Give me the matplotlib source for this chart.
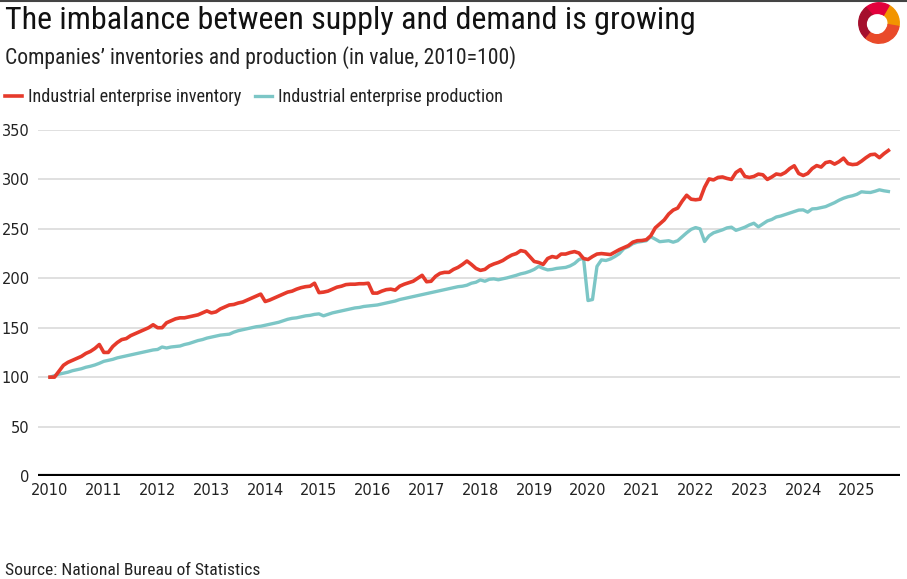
import pandas as pd
import matplotlib
matplotlib.use('Agg')
import matplotlib.pyplot as plt
from matplotlib.patches import Wedge, Circle
from matplotlib.lines import Line2D

# monthly index values, 2010=100
inventory = [
    100, 100, 106, 112, 115, 117, 119, 121, 124, 126, 129, 133,              # 2010
    125, 125, 131, 135, 138, 139, 142, 144, 146, 148, 150, 153,              # 2011
    150, 150, 155, 157, 159, 160, 160, 161, 162, 163, 165, 167,              # 2012
    165, 166, 169, 171, 173, 173.5, 175, 176, 178, 180, 182, 184,            # 2013
    176.5, 178, 180, 182, 184, 186, 187, 189, 190.5, 191.5, 192, 195,        # 2014
    185.5, 186, 187, 189, 191, 192, 193.6, 194, 194, 194.5, 194.5, 195,      # 2015
    185, 185, 187, 188.5, 189, 188, 192, 194, 195.5, 197, 200, 203,          # 2016
    196.5, 197, 202, 205, 206, 206, 209, 211, 214, 217.5, 214, 210,          # 2017
    208, 209, 212.5, 214.5, 216, 218, 221, 223.5, 225, 228, 227, 222,        # 2018
    217, 216, 214, 220, 222, 221, 224.5, 224.5, 226, 227, 225.5, 220,        # 2019
    219, 222, 224.5, 225, 224.5, 224, 226.5, 229, 231, 233, 236.5, 238,      # 2020
    238.2, 239, 243, 251, 255, 259, 265, 269, 271, 278, 284, 280,            # 2021
    279.4, 280, 292, 300.5, 299.5, 302, 302.5, 301, 300, 307, 310, 303,      # 2022
    302, 303, 305.4, 304.7, 300, 302.5, 305.5, 304.7, 307, 311, 313.8, 306,  # 2023
    304, 306, 311, 314, 312.5, 317, 318, 315.5, 318, 321.5, 316, 315,        # 2024
    315.5, 318.5, 322, 325, 325.5, 322, 326, 329.3,                          # 2025
]
production = [
    100, 101.5, 103, 104, 105, 106.5, 107.5, 108.5, 110, 111, 112.3, 114,
    116, 117, 118, 119.5, 120.5, 121.5, 122.5, 123.5, 124.5, 125.5, 126.5, 127.5,
    128, 130.5, 129.5, 130.5, 131, 131.5, 133, 134, 135.5, 137, 138, 139.5,
    140.5, 141.5, 142.5, 143, 143.5, 145.5, 147, 148, 149, 150, 151, 151.5,
    152.5, 153.5, 154.5, 155.5, 157, 158.5, 159.5, 160, 161, 162, 162.5, 163.5,
    164, 162, 163.5, 165, 166, 167, 168, 169, 170, 170.5, 171.5, 172,
    172.5, 173, 174, 175, 176, 177, 178.5, 179.5, 180.5, 181.5, 182.5, 183.5,
    184.5, 185.5, 186.5, 187.6, 188.5, 189.5, 190.5, 191.5, 192, 193, 195, 196,
    198.4, 197, 199, 199.4, 198.5, 199.5, 200.5, 201.7, 203, 204.5, 205.5, 207,
    209, 212, 210, 208.5, 209, 210, 210.5, 211, 212.5, 215, 219, 220.3,
    177.5, 178.5, 212, 218.6, 218, 219.5, 222, 225, 230, 232, 235, 236.5,
    237.2, 238, 242, 239.6, 237, 237.5, 238, 236.5, 238, 242, 246, 249.5,
    251.3, 250, 237.2, 243, 246, 247.5, 249, 251, 251.7, 248.5, 250, 251.7,
    254, 255.7, 252, 255, 258, 259.5, 262, 263, 264.5, 266, 267.5, 269,
    269.2, 266.9, 270.2, 270.5, 271.5, 272.5, 274.5, 276.5, 279, 281, 282.5, 283.5,
    285, 287.5, 287, 286.8, 288, 289.5, 288.5, 287.8,
]
years = list(range(2010, 2026))
y_ticks = [0, 50, 100, 150, 200, 250, 300, 350]

months = pd.date_range('2010-01-01', periods=len(inventory), freq='MS')
t = months.year + (months.month - 1) / 12

RED = '#e63a2b'
TEAL = '#7cc6c6'
FONT = ['Roboto Condensed', 'Liberation Sans', 'DejaVu Sans']

W, H = 907, 579
fig = plt.figure(figsize=(W / 100, H / 100), dpi=100)
ax = fig.add_axes([38 / W, 1 - 476 / H, (900 - 38) / W, (476 - 130) / H])

l1, = ax.plot(t, inventory, color=RED, lw=2.6, label='Industrial enterprise inventory', zorder=3)
l2, = ax.plot(t, production, color=TEAL, lw=2.4, label='Industrial enterprise production', zorder=2)

ax.set_xlim(2010 + (38 - 50) / 53.8, 2010 + (900 - 50) / 53.8)
ax.set_ylim(0, 350)
ax.set_xticks(years)
ax.set_xticklabels([str(y) for y in years], family='DejaVu Sans')
ax.set_yticks(y_ticks)
ax.set_yticklabels([str(v) for v in y_ticks], family='DejaVu Sans')
ax.tick_params(length=0, labelsize=10.5, colors='#222222')
ax.tick_params(axis='x', pad=5)
ax.tick_params(axis='y', pad=6)
ax.grid(axis='y', color='#dadada', lw=1.2)
ax.set_axisbelow(True)
for s in ax.spines.values():
    s.set_visible(False)
ax.axhline(0, color='black', lw=3, zorder=4)

renderer = fig.canvas.get_renderer()


def fit_width(txt, target_px):
    # scale the font so the text spans the same width as in the original
    w = txt.get_window_extent(renderer=renderer).width
    txt.set_fontsize(txt.get_fontsize() * target_px / w)


title = fig.text(5 / W, 1 - 29 / H, 'The imbalance between supply and demand is growing',
                 family=FONT, fontsize=20, color='#111111', va='baseline')
fit_width(title, 688)
sub = fig.text(5 / W, 1 - 64 / H, 'Companies\u2019 inventories and production (in value, 2010=100)',
               family=FONT, fontsize=14, color='#222222', va='baseline')
fit_width(sub, 515)
src = fig.text(5 / W, 4 / H, 'Source: National Bureau of Statistics',
               family=FONT, fontsize=12, color='#222222', va='baseline')
fit_width(src, 253)

probe = fig.text(0, 0, 'Industrial enterprise inventory', family=FONT, fontsize=12)
fit_width(probe, 214)
leg_size = probe.get_fontsize()
probe.remove()

leg = ax.legend(handles=[l1, l2], loc='center left', bbox_to_anchor=(5 / W, 1 - 97 / H),
                bbox_transform=fig.transFigure, ncol=2, frameon=False,
                handlelength=17 * 0.72 / leg_size, handletextpad=4.5 / leg_size,
                columnspacing=9.5 / leg_size,
                borderaxespad=0, borderpad=0, prop={'family': FONT, 'size': leg_size})
for txt in leg.get_texts():
    txt.set_color('#222222')

# top border
fig.add_artist(Line2D([0, 1], [1 - 1 / H, 1 - 1 / H], transform=fig.transFigure,
                      color='#444444', lw=1.5))

# logo
lax = fig.add_axes([857 / W, 1 - 45 / H, 44 / W, 44 / H])
lax.set_xlim(-1, 1)
lax.set_ylim(-1, 1)
lax.set_aspect('equal')
lax.axis('off')
lax.add_patch(Wedge((0, 0), 0.92, -10, 60, width=0.5, color='#f29400'))
lax.add_patch(Wedge((0, 0), 0.92, 60, 130, width=0.5, color='#e2003c'))
lax.add_patch(Wedge((0, 0), 0.92, 130, 230, width=0.5, color='#a50f2d'))
lax.add_patch(Wedge((0, 0), 0.92, 230, 350, width=0.5, color='#e94a2a'))
lax.add_patch(Circle((-0.1, -0.05), 0.42, color='white'))

fig.savefig('out.png', dpi=100)
